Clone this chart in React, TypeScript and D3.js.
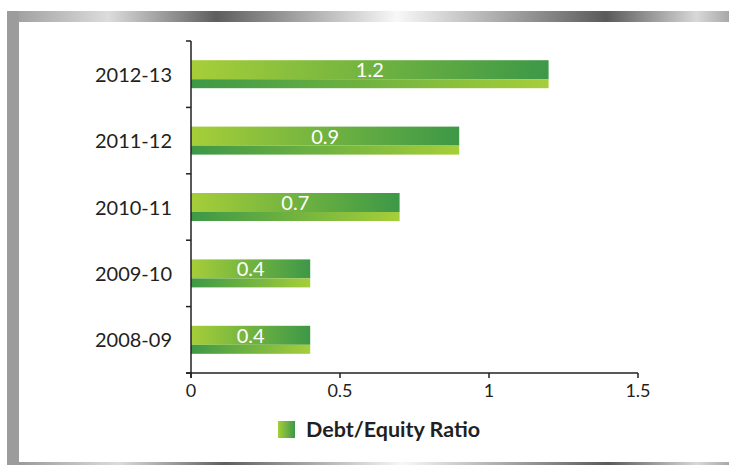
import React from "react";
import * as d3 from "d3";

const categories = ["2012-13", "2011-12", "2010-11", "2009-10", "2008-09"];
const values = [1.2, 0.9, 0.7, 0.4, 0.4];
const valueLabels = ["1.2", "0.9", "0.7", "0.4", "0.4"];
const xTicks = [0, 0.5, 1, 1.5];
const seriesName = "Debt/Equity Ratio";

const W = 729;
const H = 465;
const FONT = "Lato, 'Open Sans', sans-serif";
const INK = "#231f20";
const LIGHT = "#a6ce39";
const DARK = "#3d9847";

const frameStops: [number, string][] = [
  [0, "#9a9a9a"],
  [0.14, "#dcdcdc"],
  [0.29, "#5e5e5e"],
  [0.54, "#f8f8f8"],
  [0.83, "#5a5a5a"],
  [0.955, "#d8d8d8"],
  [1, "#a8a8a8"],
];

export default function App() {
  const x = d3.scaleLinear().domain([0, 1.5]).range([191, 638]);
  const y = d3.scaleBand<string>().domain(categories).range([41, 373]).padding(0);
  const bw = y.bandwidth();
  const barH = 28;
  const topH = 19;
  const boundaries = [...categories.map((c) => y(c) as number), 373];

  return (
    <svg
      width={W}
      height={H}
      style={{ position: "absolute", left: 0, top: 0, background: "#fff" }}
    >
      <defs>
        <linearGradient id="frameGrad" x1="0" x2="1" y1="0" y2="0">
          {frameStops.map(([o, c], i) => (
            <stop key={i} offset={o} stopColor={c} />
          ))}
        </linearGradient>
        <linearGradient id="barTop" x1="0" x2="1" y1="0" y2="0">
          <stop offset="0" stopColor={LIGHT} />
          <stop offset="1" stopColor={DARK} />
        </linearGradient>
        <linearGradient id="barBottom" x1="0" x2="1" y1="0" y2="0">
          <stop offset="0" stopColor={DARK} />
          <stop offset="1" stopColor={LIGHT} />
        </linearGradient>
      </defs>

      {/* frame */}
      <rect x={7} y={11} width={W - 7} height={11} fill="url(#frameGrad)" />
      <rect x={7} y={11} width={12} height={H - 11} fill="#9c9c9c" />
      <rect x={19} y={462} width={W - 19} height={3} fill="url(#frameGrad)" />

      {/* bars */}
      {categories.map((c, i) => {
        const cy = (y(c) as number) + bw / 2;
        const top = cy - barH / 2;
        const w = x(values[i]) - x(0);
        return (
          <g key={c}>
            <rect x={x(0)} y={top} width={w} height={topH} fill="url(#barTop)" />
            <rect
              x={x(0)}
              y={top + topH}
              width={w}
              height={barH - topH}
              fill="url(#barBottom)"
            />
            <text
              x={x(0) + w / 2}
              y={top + topH - 2}
              textAnchor="middle"
              fill="#fff"
              fontFamily={FONT}
              fontSize={20}
            >
              {valueLabels[i]}
            </text>
            <text
              x={172}
              y={cy + 7.5}
              textAnchor="end"
              fill={INK}
              fontFamily={FONT}
              fontSize={20}
            >
              {c}
            </text>
          </g>
        );
      })}

      {/* y axis */}
      <line x1={191} x2={191} y1={41} y2={378} stroke={INK} strokeWidth={1.5} />
      {boundaries.map((b, i) => (
        <line key={i} x1={186} x2={191} y1={b} y2={b} stroke={INK} strokeWidth={1.5} />
      ))}

      {/* x axis */}
      <line x1={186} x2={x(1.5)} y1={373} y2={373} stroke={INK} strokeWidth={1.5} />
      {xTicks.map((t) => (
        <g key={t}>
          <line x1={x(t)} x2={x(t)} y1={373} y2={378} stroke={INK} strokeWidth={1.5} />
          <text
            x={x(t)}
            y={397}
            textAnchor="middle"
            fill={INK}
            fontFamily={FONT}
            fontSize={18}
          >
            {String(t)}
          </text>
        </g>
      ))}

      {/* legend */}
      <rect x={278} y={421} width={17} height={17} fill="url(#barTop)" />
      <text
        x={306}
        y={437}
        fill={INK}
        fontFamily={FONT}
        fontSize={21.5}
        fontWeight="bold"
      >
        {seriesName}
      </text>
    </svg>
  );
}
